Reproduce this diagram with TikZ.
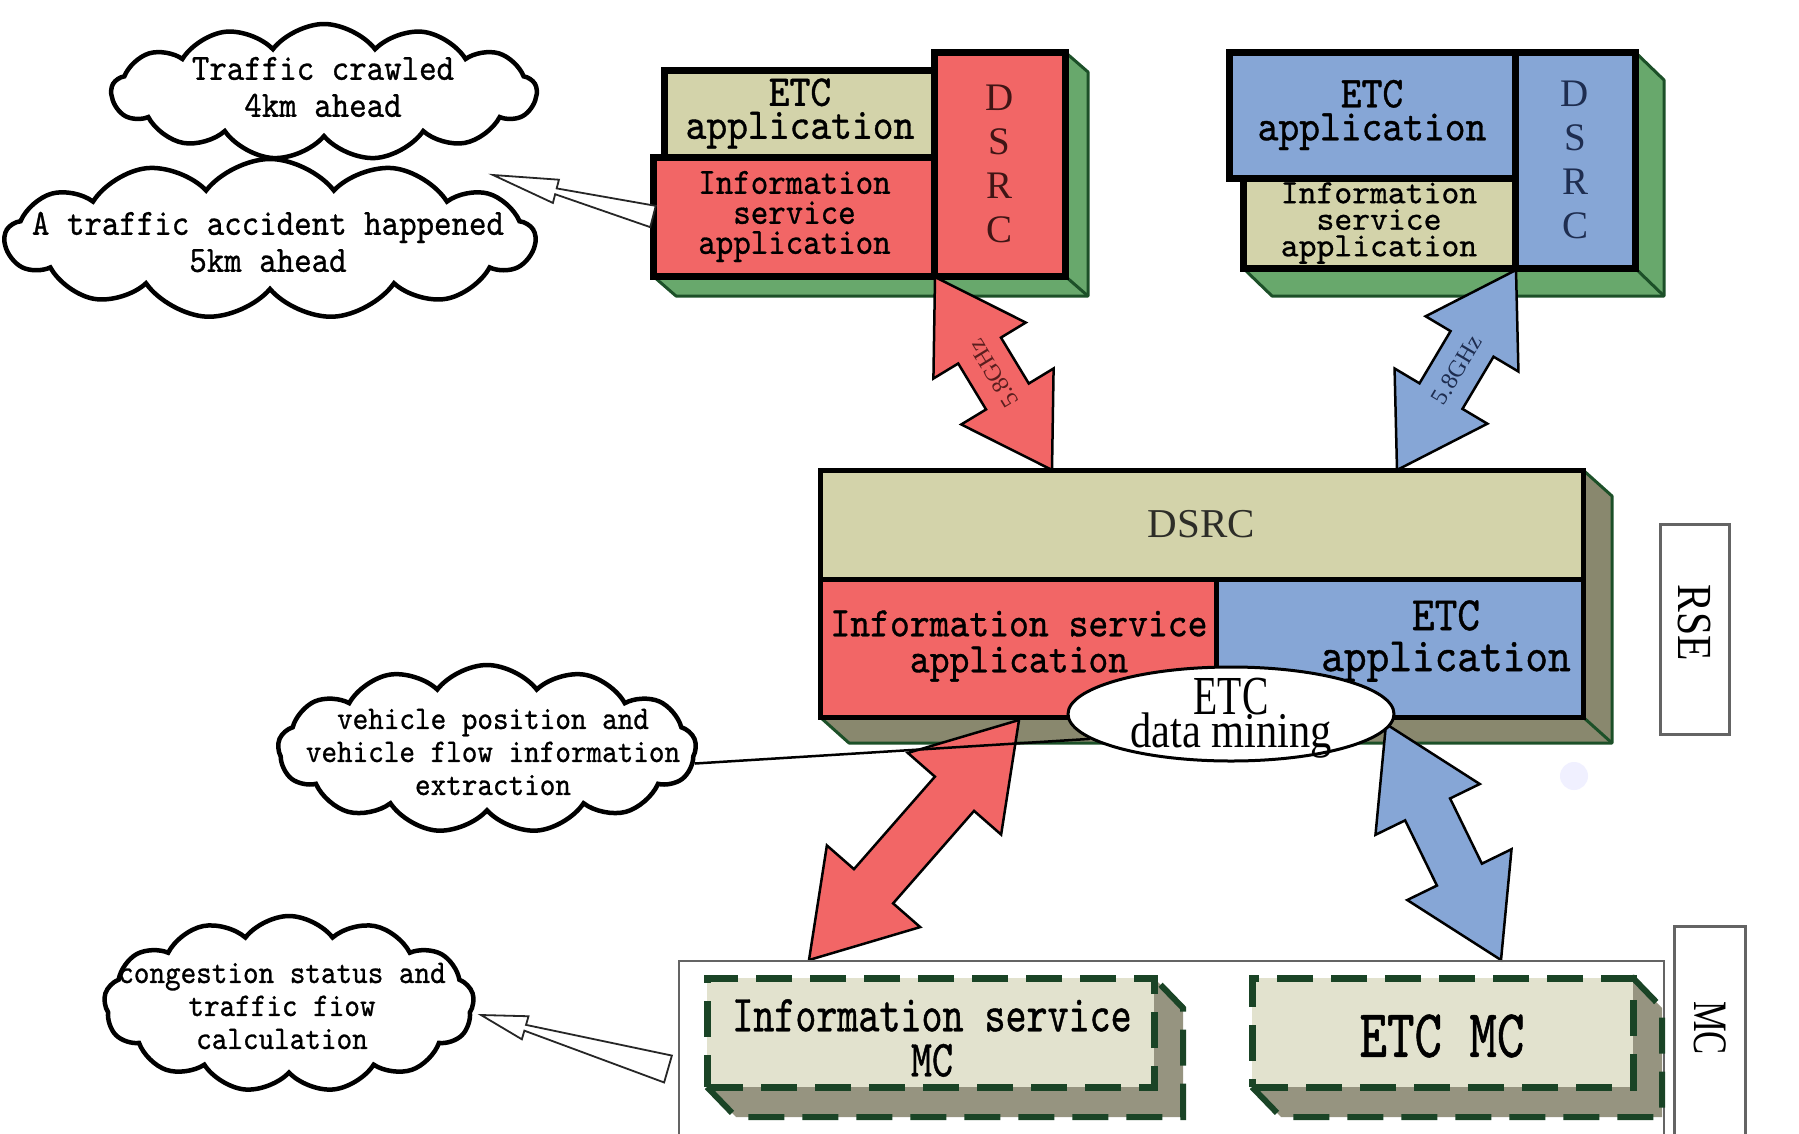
\documentclass[tikz,border=0pt]{standalone}
\usepackage{fontspec}
\usetikzlibrary{calc,shapes.symbols,shapes.geometric}

% typefaces
\newfontfamily\monoA[FakeStretch=0.9,FakeBold=0.8]{lmmono10-regular.otf}
\newfontfamily\monoN[FakeBold=0.8]{lmmono10-regular.otf}
\newfontfamily\monoB[FakeStretch=0.77,FakeBold=0.8]{lmmono10-regular.otf}
\newfontfamily\serN{Liberation Serif}
\newfontfamily\serC[FakeStretch=0.72]{Liberation Serif}
\newfontfamily\serD[FakeStretch=0.85]{Liberation Serif}

\newcommand{\fTopApp}{\monoA\fontsize{44}{33}\selectfont}
\newcommand{\fTopInfo}{\monoA\fontsize{37}{30}\selectfont}
\newcommand{\fTopInfoR}{\monoN\fontsize{34}{26.5}\selectfont}
\newcommand{\fLetters}{\serN\fontsize{39}{44}\selectfont}
\newcommand{\fCloudBig}{\monoA\fontsize{37}{37}\selectfont}
\newcommand{\fCloudSmall}{\monoA\fontsize{33}{33}\selectfont}
\newcommand{\fMidRed}{\monoA\fontsize{42}{36}\selectfont}
\newcommand{\fMidBlue}{\monoA\fontsize{48}{41}\selectfont}
\newcommand{\fMcInfo}{\monoB\fontsize{52}{45}\selectfont}
\newcommand{\fMcEtc}{\monoB\fontsize{68}{68}\selectfont}
\newcommand{\fSideLabel}{\serD\fontsize{49}{49}\selectfont}
\newcommand{\fSideMC}{\serC\fontsize{48}{48}\selectfont}
\newcommand{\fFreq}{\serN\fontsize{24}{24}\selectfont}

% colours
\definecolor{appred}{RGB}{242,102,102}
\definecolor{appblue}{RGB}{134,166,214}
\definecolor{appkhaki}{RGB}{211,211,170}
\definecolor{extgreen}{RGB}{104,168,108}
\definecolor{edgegreen}{RGB}{28,80,40}
\definecolor{extolive}{RGB}{137,136,110}
\definecolor{mcfill}{RGB}{226,226,206}
\definecolor{mcext}{RGB}{150,148,128}
\definecolor{mcdash}{RGB}{26,68,38}
\definecolor{framegray}{RGB}{100,100,100}
\definecolor{freqred}{RGB}{90,30,30}
\definecolor{freqblue}{RGB}{30,45,80}
\definecolor{dsrctext}{RGB}{45,45,40}

% block double arrow between two named points:
% #1 end A, #2 end B, #3 shaft half width, #4 head half width, #5 head length, #6 fill
\newcommand{\dblarrow}[6]{%
  \coordinate (#1h) at ($(#1)!#5!(#2)$);
  \coordinate (#2h) at ($(#2)!#5!(#1)$);
  \filldraw[fill=#6, draw=black, line width=2.5pt, line join=miter]
    (#1) -- ($(#1h)!#4!90:(#2)$) -- ($(#1h)!#3!90:(#2)$)
    -- ($(#2h)!#3!-90:(#1)$) -- ($(#2h)!#4!-90:(#1)$) -- (#2)
    -- ($(#2h)!#4!90:(#1)$) -- ($(#2h)!#3!90:(#1)$)
    -- ($(#1h)!#3!-90:(#2)$) -- ($(#1h)!#4!-90:(#2)$) -- cycle;}

% hollow pointer arrow: #1 tip, #2 tail, #3 head length, #4 head half width, #5 tail half width
\newcommand{\hollowarrow}[5]{%
  \coordinate (#1b) at ($(#1)!#3!(#2)$);
  \filldraw[fill=white, draw=black!85, line width=1.8pt, line join=miter]
    (#1) -- ($(#1b)!#4!90:(#2)$) -- ($(#1b)!3pt!90:(#2)$)
    -- ($(#2)!#5!-90:(#1)$) -- ($(#2)!#5!90:(#1)$)
    -- ($(#1b)!3pt!-90:(#2)$) -- ($(#1b)!#4!-90:(#2)$) -- cycle;}

\begin{document}
\begin{tikzpicture}[x=1pt,y=-1pt,
  frontbox/.style={draw=black, line width=7pt, inner sep=0pt, outer sep=0pt,
    align=center, anchor=north west, line join=miter},
  midbox/.style={draw=black, line width=5pt, inner sep=0pt, outer sep=0pt,
    align=center, anchor=north west},
  mcbox/.style={draw=mcdash, line width=7pt, dash pattern=on 36pt off 18pt,
    fill=mcfill, inner sep=0pt, outer sep=0pt, anchor=north west},
  mcextr/.style={fill=mcext, draw=mcdash, line width=6pt, dash pattern=on 36pt off 18pt},
  extr/.style={draw=edgegreen, line width=3pt, line join=round},
  labelbox/.style={draw=framegray, line width=3pt, fill=white, inner sep=0pt,
    outer sep=0pt, anchor=north west},
  cloudnode/.style={cloud, cloud puffs=13, cloud puff arc=105, cloud ignores aspect,
    draw=black, line width=4.5pt, fill=white, inner sep=0pt},
  txt/.style={align=center, inner sep=0pt}]

\useasboundingbox (0,0) rectangle (1799,1133);
\fill[white] (0,0) rectangle (1799,1133);

% ---------- on-board unit, left (information service) ----------
\filldraw[extr, fill=extgreen]
  (653,276) -- (676,296) -- (1088,296) -- (1088,72) -- (1065,52) -- (1065,276) -- cycle;
\draw[extr] (1065,276) -- (1088,296);
\node[frontbox, fill=appkhaki, minimum width=272pt, minimum height=87pt, font=\fTopApp]
  (tlEtc) at (664,70) {ETC\\application};
\node[frontbox, fill=appred, minimum width=283pt, minimum height=119pt, font=\fTopInfo]
  (tlInfo) at (653,157) {Information\\service\\application};
\node[frontbox, fill=appred, minimum width=131pt, minimum height=224pt,
  font=\fLetters, text=freqred!70!black] (tlDsrc) at (934,52) {D\\S\\R\\C};

% ---------- on-board unit, right (ETC) ----------
\filldraw[extr, fill=extgreen]
  (1243,268) -- (1272,296) -- (1664,296) -- (1664,80) -- (1635,52) -- (1635,268) -- cycle;
\draw[extr] (1635,268) -- (1664,296);
\node[frontbox, fill=appkhaki, minimum width=272pt, minimum height=90pt, font=\fTopInfoR]
  (trInfo) at (1243,178) {Information\\service\\application};
\node[frontbox, fill=appblue, minimum width=286pt, minimum height=126pt, font=\fTopApp]
  (trEtc) at (1229,52) {ETC\\application};
\node[frontbox, fill=appblue, minimum width=120pt, minimum height=216pt,
  font=\fLetters, text=freqblue] (trDsrc) at (1515,52) {D\\S\\R\\C};

% ---------- road side equipment ----------
\filldraw[extr, fill=extolive]
  (820,717) -- (849,743) -- (1612,743) -- (1612,496) -- (1583,470) -- (1583,717) -- cycle;
\draw[extr] (1583,717) -- (1612,743);
\node[midbox, fill=appkhaki, minimum width=763pt, minimum height=109pt,
  font=\serN\fontsize{41}{41}\selectfont, text=dsrctext] (rseDsrc) at (820,470) {DSRC};
\node[midbox, fill=appred, minimum width=396pt, minimum height=138pt] (rseInfo) at (820,579) {};
\node[midbox, fill=appblue, minimum width=367pt, minimum height=138pt] (rseEtc) at (1216,579) {};
\node[txt, font=\fMidRed] (rseInfoT) at (1019,646) {Information service\\application};
\node[txt, font=\fMidBlue] (rseEtcT) at (1446,641) {ETC\\application};

% radio links to the on-board units
\coordinate (raT) at (935,277);
\coordinate (raB) at (1052,470);
\coordinate (baT) at (1516,270);
\coordinate (baB) at (1397,470);
\dblarrow{raT}{raB}{25pt}{54pt}{86pt}{appred}
\dblarrow{baT}{baB}{25pt}{54pt}{86pt}{appblue}
\path (raB) -- node[sloped, allow upside down, font=\fFreq, text=freqred] (lblR) {5.8GHz} (raT);
\path (baB) -- node[sloped, font=\fFreq, text=freqblue] (lblB) {5.8GHz} (baT);

% links down to the management centres
\coordinate (rbT) at (1019,720);
\coordinate (rbB) at (809,960);
\coordinate (bbT) at (1386,724);
\coordinate (bbB) at (1501,960);
\dblarrow{rbT}{rbB}{26pt}{62pt}{98pt}{appred}
\dblarrow{bbT}{bbB}{25pt}{58pt}{95pt}{appblue}

% faint spot beside the equipment
\fill[blue!6] (1574,776) circle[radius=14pt];

% data mining
\node[cloudnode, minimum width=418pt, minimum height=168pt] (cC) at (487,749) {};
\node[txt, font=\fCloudSmall] (cCt) at (493,752)
  {vehicle position and\\vehicle flow information\\extraction};
\node[ellipse, draw=black, line width=3pt, fill=white, minimum width=326pt,
  minimum height=94pt, inner sep=0pt] (mine) at (1231,714) {};
\draw[black, line width=2.5pt] (cC.-4) -- (mine.190);
\node[txt, font=\serC\fontsize{55}{55}\selectfont] (mineT1) at (1231,697) {ETC};
\node[txt, font=\serD\fontsize{50}{50}\selectfont] (mineT2) at (1231,736) {data mining};

% RSE tag
\node[labelbox, minimum width=69pt, minimum height=210pt] (rse) at (1660,524) {};
\node[txt, rotate=-90, font=\fSideLabel] (rseT) at (1694,623) {RSE};

% ---------- management centres ----------
\node[draw=framegray, line width=2.5pt, inner sep=0pt, outer sep=0pt, anchor=north west,
  minimum width=985pt, minimum height=200pt] (mcframe) at (679,961) {};
\node[labelbox, minimum width=71pt, minimum height=230pt] (mcTag) at (1674,926) {};
\node[txt, rotate=-90, font=\fSideMC] (mcTagT) at (1710,1028) {MC};

\filldraw[mcextr] (707,1087) -- (736,1117) -- (1183,1117) -- (1183,1008) -- (1154,978) -- cycle;
\node[mcbox, minimum width=447pt, minimum height=109pt] (mcInfo) at (707,978) {};
\node[txt, font=\fMcInfo] (mcInfoT) at (932,1038) {Information service\\MC};

\filldraw[mcextr] (1252,1087) -- (1281,1117) -- (1662,1117) -- (1662,1008) -- (1633,978) -- cycle;
\node[mcbox, minimum width=381pt, minimum height=109pt] (mcEtc) at (1252,978) {};
\node[txt, font=\fMcEtc] (mcEtcT) at (1442,1036) {ETC MC};

% ---------- callout clouds ----------
\node[cloudnode, minimum width=425pt, minimum height=136pt] (cA) at (324,92) {};
\node[txt, font=\fCloudBig] (cAt) at (323,87) {Traffic crawled\\4km ahead};
\node[cloudnode, minimum width=530pt, minimum height=160pt] (cB) at (270,239) {};
\node[txt, font=\fCloudBig] (cBt) at (268,242) {A traffic accident happened\\5km ahead};
\node[cloudnode, minimum width=370pt, minimum height=176pt] (cD) at (289,1004) {};
\node[txt, font=\fCloudSmall] (cDt) at (282,1006)
  {congestion status and\\traffic fiow\\calculation};

% pointers from the applications to the callouts
\coordinate (haTip) at (493,175);
\hollowarrow{haTip}{tlInfo.west}{65pt}{12pt}{11pt}
\coordinate (hbTip) at (481,1015);
\coordinate (hbTail) at (668,1069);
\hollowarrow{hbTip}{hbTail}{46pt}{12pt}{14pt}

\end{tikzpicture}
\end{document}
